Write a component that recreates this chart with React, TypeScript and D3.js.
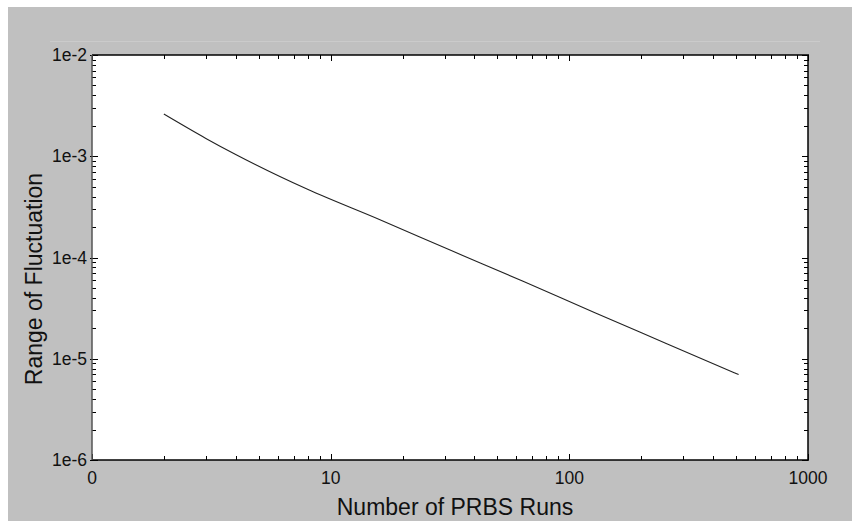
import React, { useEffect, useRef } from "react";
import * as d3 from "d3";

const runs = [2, 3, 4, 8, 16, 32, 64, 128, 256, 512];
const fluctuation = [2.61e-3, 1.5e-3, 1.04e-3, 4.71e-4, 2.37e-4, 1.17e-4, 5.82e-5, 2.84e-5, 1.41e-5, 6.98e-6];
const xTickValues = [1, 10, 100, 1000];
const xTickLabels = ["0", "10", "100", "1000"];
const yTickValues = [1e-6, 1e-5, 1e-4, 1e-3, 1e-2];
const yTickLabels = ["1e-6", "1e-5", "1e-4", "1e-3", "1e-2"];

const W = 852;
const H = 521;
const M = { left: 92, top: 55, right: 808, bottom: 460 };

export default function App() {
  const ref = useRef<SVGSVGElement>(null);
  useEffect(() => {
    const svg = d3.select(ref.current);
    svg.selectAll("*").remove();
    const font = "'Liberation Sans', Arial, sans-serif";
    svg.append("rect").attr("x", 0).attr("y", 0).attr("width", W).attr("height", H).attr("fill", "#ffffff");
    svg.append("rect").attr("x", 8).attr("y", 7).attr("width", W - 8).attr("height", H - 7).attr("fill", "#c0c0c0");
    svg.append("line").attr("x1", 50).attr("x2", 820).attr("y1", 41.5).attr("y2", 41.5).attr("stroke", "#cbcbcb").attr("stroke-width", 1);

    const x = d3.scaleLog().domain([1, 1000]).range([M.left, M.right]);
    const y = d3.scaleLog().domain([1e-6, 1e-2]).range([M.bottom, M.top]);

    svg.append("rect").attr("x", M.left).attr("y", M.top).attr("width", M.right - M.left).attr("height", M.bottom - M.top).attr("fill", "#ffffff");

    const xMinor: number[] = [];
    for (let d = 1; d < 1000; d *= 10) for (let k = 2; k <= 9; k++) xMinor.push(d * k);
    const yMinor: number[] = [];
    for (let d = 1e-6; d < 1e-2 * 0.99; d *= 10) for (let k = 2; k <= 9; k++) yMinor.push(d * k);

    const g = svg.append("g").attr("stroke", "#000").attr("stroke-width", 1);
    xMinor.forEach((v) => {
      const px = Math.round(x(v)) + 0.5;
      g.append("line").attr("x1", px).attr("x2", px).attr("y1", M.bottom).attr("y2", M.bottom - 4);
      g.append("line").attr("x1", px).attr("x2", px).attr("y1", M.top).attr("y2", M.top + 4);
    });
    xTickValues.forEach((v) => {
      const px = Math.round(x(v)) + 0.5;
      g.append("line").attr("x1", px).attr("x2", px).attr("y1", M.bottom).attr("y2", M.bottom - 6);
      g.append("line").attr("x1", px).attr("x2", px).attr("y1", M.top).attr("y2", M.top + 6);
    });
    yMinor.forEach((v) => {
      const py = Math.round(y(v)) + 0.5;
      g.append("line").attr("x1", M.left).attr("x2", M.left + 4).attr("y1", py).attr("y2", py);
      g.append("line").attr("x1", M.right).attr("x2", M.right - 4).attr("y1", py).attr("y2", py);
    });
    yTickValues.forEach((v) => {
      const py = Math.round(y(v)) + 0.5;
      g.append("line").attr("x1", M.left - 2).attr("x2", M.left + 6).attr("y1", py).attr("y2", py);
      g.append("line").attr("x1", M.right).attr("x2", M.right - 6).attr("y1", py).attr("y2", py);
    });

    svg.append("line").attr("x1", M.left).attr("x2", M.right + 1).attr("y1", M.top).attr("y2", M.top).attr("stroke", "#000").attr("stroke-width", 1.5);
    svg.append("line").attr("x1", M.left).attr("x2", M.right + 1).attr("y1", M.bottom).attr("y2", M.bottom).attr("stroke", "#000").attr("stroke-width", 1.5);
    svg.append("line").attr("x1", M.right).attr("x2", M.right).attr("y1", M.top).attr("y2", M.bottom).attr("stroke", "#000").attr("stroke-width", 1.5);
    svg.append("line").attr("x1", M.left).attr("x2", M.left).attr("y1", M.top).attr("y2", M.bottom).attr("stroke", "#555").attr("stroke-width", 1.5);

    const line = d3
      .line<number>()
      .x((_, i) => x(runs[i]))
      .y((d) => y(d))
      .curve(d3.curveMonotoneX);
    svg.append("path").datum(fluctuation).attr("d", line).attr("fill", "none").attr("stroke", "#222").attr("stroke-width", 1.1);

    xTickValues.forEach((v, i) => {
      svg.append("text").attr("x", x(v)).attr("y", 484).attr("text-anchor", "middle")
        .attr("font-family", font).attr("font-size", 17.5).attr("fill", "#111").text(xTickLabels[i]);
    });
    yTickValues.forEach((v, i) => {
      svg.append("text").attr("x", 87).attr("y", y(v) + 6).attr("text-anchor", "end")
        .attr("font-family", font).attr("font-size", 17.5).attr("fill", "#111").text(yTickLabels[i]);
    });

    svg.append("text").attr("x", 455).attr("y", 515).attr("text-anchor", "middle")
      .attr("font-family", font).attr("font-size", 23).attr("fill", "#111").text("Number of PRBS Runs");
    svg.append("text").attr("transform", "translate(42,279) rotate(-90)").attr("text-anchor", "middle")
      .attr("font-family", font).attr("font-size", 23).attr("fill", "#111").text("Range of Fluctuation");
  }, []);
  return <svg ref={ref} width={W} height={H} style={{ position: "fixed", left: 0, top: 0 }} />;
}
